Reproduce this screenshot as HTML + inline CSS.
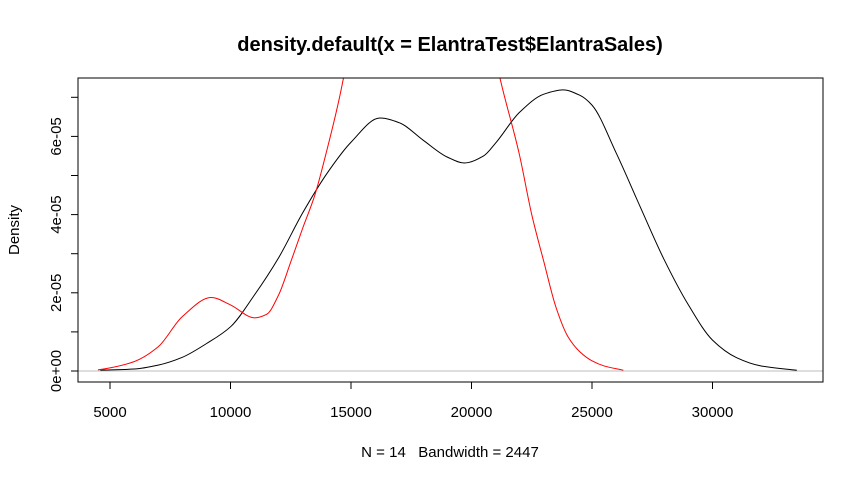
<!DOCTYPE html>
<html><head><meta charset="utf-8"><style>
html,body{margin:0;padding:0;background:#fff;}
svg text{font-family:"Liberation Sans",Arial,sans-serif;fill:#000;white-space:pre;}
</style></head><body>
<svg id="chart" width="864" height="480" xmlns="http://www.w3.org/2000/svg">
<defs><clipPath id="pc"><rect x="78" y="78" width="745" height="304"/></clipPath></defs>
<text x="450" y="51" text-anchor="middle" font-size="20" font-weight="bold">density.default(x = ElantraTest$ElantraSales)</text>
<text x="450" y="457" text-anchor="middle" font-size="15" xml:space="preserve">N = 14   Bandwidth = 2447</text>
<text x="19" y="230" text-anchor="middle" font-size="15" transform="rotate(-90 19 230)">Density</text>
<line x1="78" y1="371" x2="823" y2="371" stroke="#bebebe" stroke-width="1"/>
<g id="marks" clip-path="url(#pc)"></g>
<g id="axes"></g>
<rect x="78" y="78" width="745" height="304" fill="none" stroke="#000" stroke-width="1"/>
</svg>
<script>
const xTicks=[5000,10000,15000,20000,25000,30000];
const yTicks=[0,1e-5,2e-5,3e-5,4e-5,5e-5,6e-5,7e-5];
const yTickLabels=["0e+00","","2e-05","","4e-05","","6e-05",""];
const blackX=[4600,6000,7000,8000,9000,10000,11000,12000,13000,14000,15000,16200,17000,18000,19000,19700,20500,21000,22000,23000,23800,24500,25000,26000,27000,28000,29000,30000,31000,32000,33500];
const blackY=[0.02e-5,0.05e-5,0.15e-5,0.35e-5,0.7e-5,1.13e-5,1.95e-5,2.9e-5,4.05e-5,5.05e-5,5.85e-5,6.47e-5,6.35e-5,5.9e-5,5.47e-5,5.32e-5,5.5e-5,5.83e-5,6.62e-5,7.08e-5,7.19e-5,7.05e-5,6.8e-5,5.58e-5,4.2e-5,2.84e-5,1.69e-5,0.79e-5,0.34e-5,0.13e-5,0.02e-5];
const redX=[4500,5000,6000,7000,8000,9200,10000,11000,11500,12000,12500,13000,13500,14000,14500,15000,16000,18000,20000,21000,22000,22500,23000,23500,24000,24500,25000,25500,26300];
const redY=[0.03e-5,0.08e-5,0.24e-5,0.62e-5,1.39e-5,1.88e-5,1.69e-5,1.36e-5,1.45e-5,1.95e-5,2.79e-5,3.66e-5,4.5e-5,5.65e-5,6.93e-5,8.5e-5,12e-5,15e-5,12e-5,8e-5,5.5e-5,4e-5,2.8e-5,1.64e-5,0.88e-5,0.49e-5,0.26e-5,0.13e-5,0.02e-5];
const X=v=>110+(v-5000)*(120.5/5000);
const Y=v=>371-v*(78.2/2e-5);
const NS="http://www.w3.org/2000/svg";
function mk(t,a){const e=document.createElementNS(NS,t);for(const k in a)e.setAttribute(k,a[k]);return e;}
const marks=document.getElementById('marks'),axes=document.getElementById('axes');
function mono(xs,ys){const px=xs.map(X),py=ys.map(Y),n=px.length;const d=[],m=[];
for(let i=0;i<n-1;i++)d.push((py[i+1]-py[i])/(px[i+1]-px[i]));
m[0]=d[0];m[n-1]=d[n-2];
for(let i=1;i<n-1;i++){if(d[i-1]*d[i]<=0)m[i]=0;else{const h0=px[i]-px[i-1],h1=px[i+1]-px[i];m[i]=3*(h0+h1)/((2*h1+h0)/d[i-1]+(h1+2*h0)/d[i]);}}
let s="M"+px[0]+","+py[0];
for(let i=0;i<n-1;i++){const h=(px[i+1]-px[i])/3;s+=" C"+(px[i]+h)+","+(py[i]+m[i]*h)+" "+(px[i+1]-h)+","+(py[i+1]-m[i+1]*h)+" "+px[i+1]+","+py[i+1];}
return s;}
const bl=mk('path',{d:mono(blackX,blackY),fill:'none',stroke:'#000','stroke-width':1});


marks.appendChild(bl);
const rl=mk('path',{d:mono(redX,redY),fill:'none',stroke:'#ff0000','stroke-width':1});


marks.appendChild(rl);
xTicks.forEach(v=>{const x=X(v);
const t=mk('line',{x1:x,y1:382,x2:x,y2:389,stroke:'#000'});


axes.appendChild(t);
const l=mk('text',{x:x,y:417,'text-anchor':'middle','font-size':15});l.textContent=v;


axes.appendChild(l);});
yTicks.forEach((v,i)=>{const y=Y(v);
const t=mk('line',{x1:71,y1:y,x2:78,y2:y,stroke:'#000'});


axes.appendChild(t);
if(yTickLabels[i]){const l=mk('text',{x:61,y:y,'text-anchor':'middle','font-size':15,transform:'rotate(-90 61 '+y+')'});l.textContent=yTickLabels[i];


axes.appendChild(l);}});
</script>
</body></html>
